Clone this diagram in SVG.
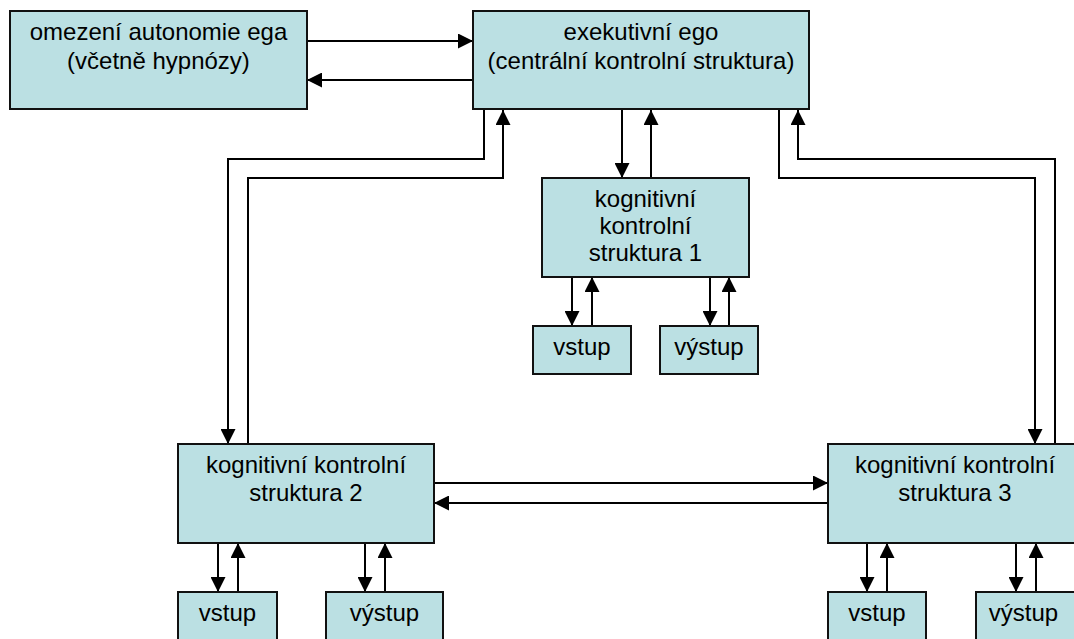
<svg xmlns="http://www.w3.org/2000/svg" width="1074" height="639" viewBox="0 0 1074 639">
  <style>
    .box { fill: #BBE0E3; stroke: #111; stroke-width: 2; }
    .lbl { font-family: "Liberation Sans", Arial, sans-serif; font-size: 24px; fill: #000; text-anchor: middle; }
    .ln { fill: none; stroke: #000; stroke-width: 2; }
    .arr { fill: none; stroke: #000; stroke-width: 2; marker-end: url(#head); }
  </style>
  <defs>
    <marker id="head" markerUnits="userSpaceOnUse" markerWidth="15" markerHeight="15" viewBox="0 0 15 15" refX="15" refY="7.5" orient="auto">
      <path d="M0,0 L15,7.5 L0,15 Z" fill="#000"/>
    </marker>
  </defs>

  <rect width="1074" height="639" fill="#fff"/>

  <!-- connectors -->
  <g id="connectors">
    <!-- omezení <-> exekutivní ego -->
    <path class="arr" d="M307,41 H473"/>
    <path class="arr" d="M473,80 H307"/>
    <!-- ego <-> struktura 1 -->
    <path class="arr" d="M622,110 V178"/>
    <path class="arr" d="M651,178 V110"/>
    <!-- ego <-> struktura 2 -->
    <path class="arr" d="M484,110 V159 H228 V444"/>
    <path class="arr" d="M248,444 V178 H503 V110"/>
    <!-- ego <-> struktura 3 -->
    <path class="arr" d="M779,110 V178 H1035 V444"/>
    <path class="arr" d="M1055,444 V159 H798 V110"/>
    <!-- struktura 2 <-> struktura 3 -->
    <path class="arr" d="M434,483 H828"/>
    <path class="arr" d="M828,503 H434"/>
    <!-- struktura 1 <-> vstup / výstup -->
    <path class="arr" d="M572,277 V326"/>
    <path class="arr" d="M592,326 V277"/>
    <path class="arr" d="M710,277 V326"/>
    <path class="arr" d="M729,326 V277"/>
    <!-- struktura 2 <-> vstup / výstup -->
    <path class="arr" d="M218,543 V592"/>
    <path class="arr" d="M238,592 V543"/>
    <path class="arr" d="M365,543 V592"/>
    <path class="arr" d="M385,592 V543"/>
    <!-- struktura 3 <-> vstup / výstup -->
    <path class="arr" d="M867,543 V592"/>
    <path class="arr" d="M887,592 V543"/>
    <path class="arr" d="M1016,543 V592"/>
    <path class="arr" d="M1036,592 V543"/>
  </g>

  <g id="omezeni">
    <rect class="box" x="10" y="11" width="297" height="98"/>
    <text class="lbl" x="158.5" y="40">omezení autonomie ega</text>
    <text class="lbl" x="158.5" y="69">(včetně hypnózy)</text>
  </g>

  <g id="ego">
    <rect class="box" x="473" y="11" width="336" height="98"/>
    <text class="lbl" x="641" y="40">exekutivní ego</text>
    <text class="lbl" x="641" y="69">(centrální kontrolní struktura)</text>
  </g>

  <g id="struktura1">
    <rect class="box" x="542" y="178" width="207" height="99"/>
    <text class="lbl" x="645.5" y="207">kognitivní</text>
    <text class="lbl" x="645.5" y="234">kontrolní</text>
    <text class="lbl" x="645.5" y="261">struktura 1</text>
  </g>

  <g id="vstup1">
    <rect class="box" x="533" y="326" width="98" height="48"/>
    <text class="lbl" x="582" y="355">vstup</text>
  </g>

  <g id="vystup1">
    <rect class="box" x="660" y="326" width="98" height="48"/>
    <text class="lbl" x="709" y="355">výstup</text>
  </g>

  <g id="struktura2">
    <rect class="box" x="178" y="444" width="256" height="99"/>
    <text class="lbl" x="306" y="473">kognitivní kontrolní</text>
    <text class="lbl" x="306" y="501">struktura 2</text>
  </g>

  <g id="struktura3">
    <rect class="box" x="828" y="444" width="254" height="99"/>
    <text class="lbl" x="955" y="473">kognitivní kontrolní</text>
    <text class="lbl" x="955" y="501">struktura 3</text>
  </g>

  <g id="vstup2">
    <rect class="box" x="178" y="592" width="99" height="60"/>
    <text class="lbl" x="227.5" y="621">vstup</text>
  </g>

  <g id="vystup2">
    <rect class="box" x="326" y="592" width="117" height="60"/>
    <text class="lbl" x="384.5" y="621">výstup</text>
  </g>

  <g id="vstup3">
    <rect class="box" x="828" y="592" width="98" height="60"/>
    <text class="lbl" x="877" y="621">vstup</text>
  </g>

  <g id="vystup3">
    <rect class="box" x="976" y="592" width="110" height="60"/>
    <text class="lbl" x="1023.5" y="621">výstup</text>
  </g>
</svg>
